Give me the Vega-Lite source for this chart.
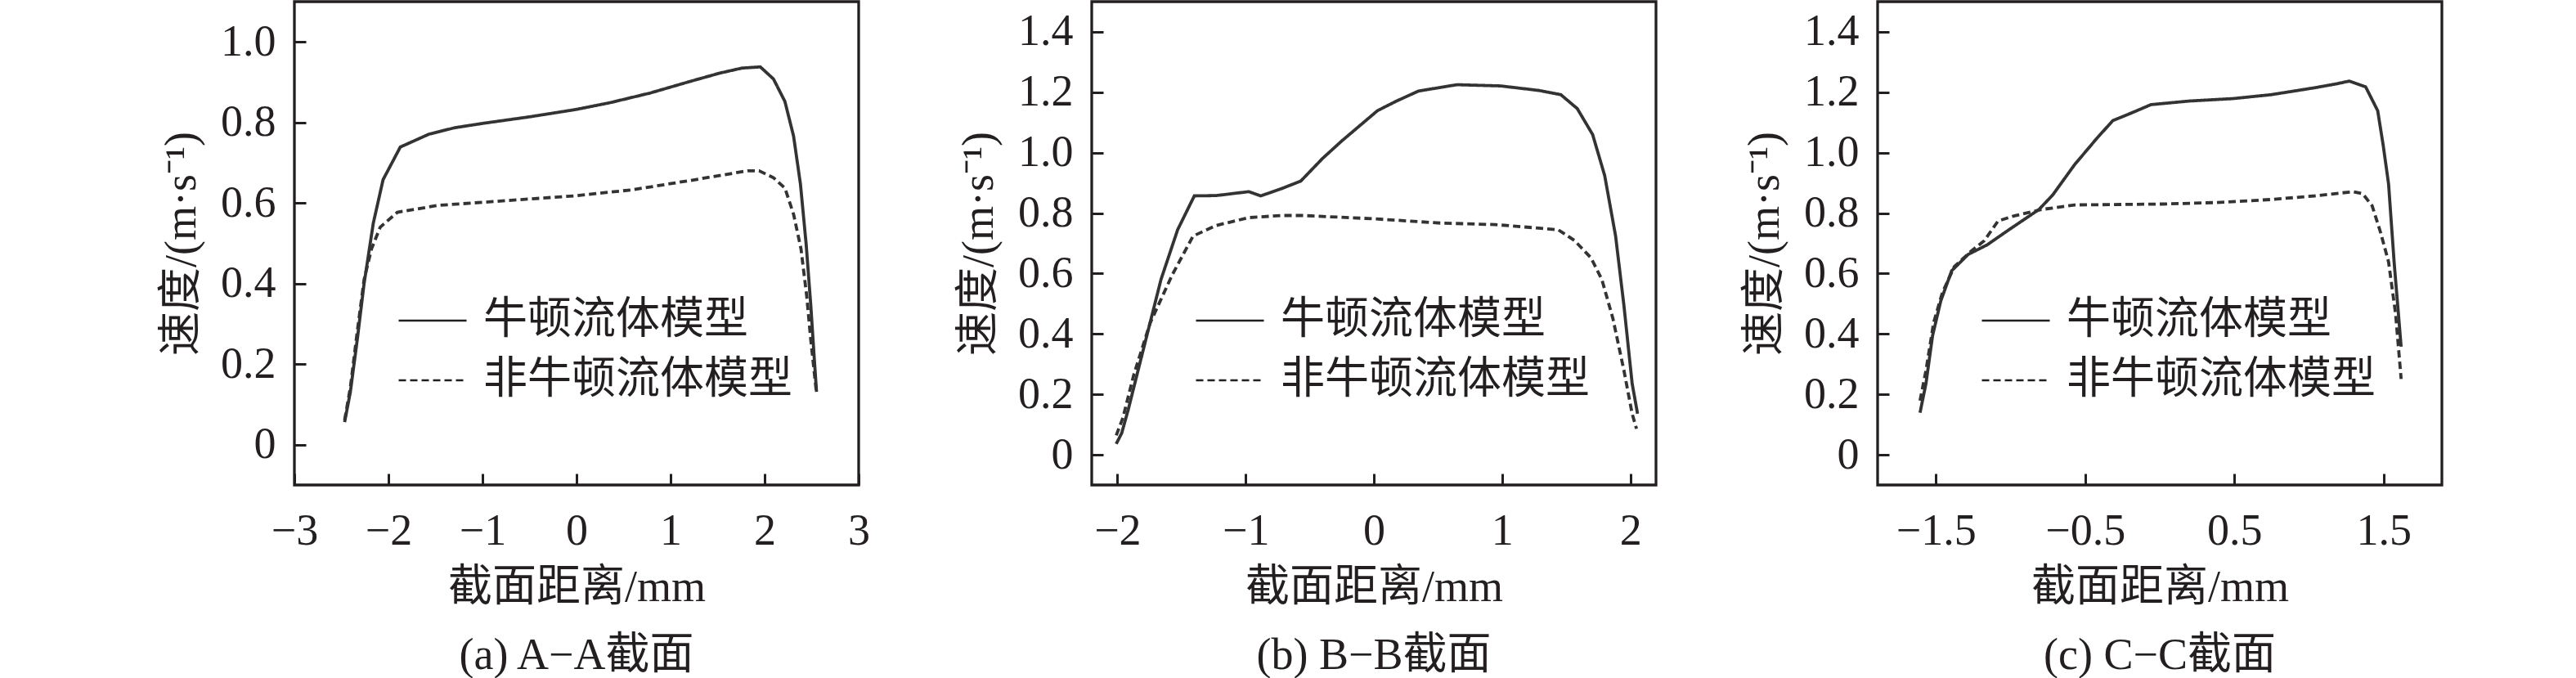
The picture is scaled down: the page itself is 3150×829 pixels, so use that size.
{
  "$schema": "https://vega.github.io/schema/vega-lite/v6.json",
  "padding": {"left": 193, "top": 0, "right": 0, "bottom": 0},
  "background": "white",
  "datasets": {
    "a": [
      {"x": -2.466, "v": 0.056, "model": "牛顿流体模型"},
      {"x": -2.405, "v": 0.131, "model": "牛顿流体模型"},
      {"x": -2.332, "v": 0.26, "model": "牛顿流体模型"},
      {"x": -2.259, "v": 0.4, "model": "牛顿流体模型"},
      {"x": -2.161, "v": 0.55, "model": "牛顿流体模型"},
      {"x": -2.057, "v": 0.658, "model": "牛顿流体模型"},
      {"x": -1.874, "v": 0.739, "model": "牛顿流体模型"},
      {"x": -1.569, "v": 0.771, "model": "牛顿流体模型"},
      {"x": -1.294, "v": 0.787, "model": "牛顿流体模型"},
      {"x": -0.989, "v": 0.798, "model": "牛顿流体模型"},
      {"x": -0.5, "v": 0.814, "model": "牛顿流体模型"},
      {"x": -0.012, "v": 0.832, "model": "牛顿流体模型"},
      {"x": 0.354, "v": 0.849, "model": "牛顿流体模型"},
      {"x": 0.781, "v": 0.873, "model": "牛顿流体模型"},
      {"x": 1.209, "v": 0.902, "model": "牛顿流体模型"},
      {"x": 1.514, "v": 0.922, "model": "牛顿流体模型"},
      {"x": 1.758, "v": 0.935, "model": "牛顿流体模型"},
      {"x": 1.954, "v": 0.938, "model": "牛顿流体模型"},
      {"x": 2.094, "v": 0.908, "model": "牛顿流体模型"},
      {"x": 2.216, "v": 0.852, "model": "牛顿流体模型"},
      {"x": 2.308, "v": 0.766, "model": "牛顿流体模型"},
      {"x": 2.381, "v": 0.647, "model": "牛顿流体模型"},
      {"x": 2.442, "v": 0.497, "model": "牛顿流体模型"},
      {"x": 2.491, "v": 0.346, "model": "牛顿流体模型"},
      {"x": 2.527, "v": 0.217, "model": "牛顿流体模型"},
      {"x": 2.552, "v": 0.131, "model": "牛顿流体模型"},
      {"x": -2.466, "v": 0.061, "model": "非牛顿流体模型"},
      {"x": -2.405, "v": 0.142, "model": "非牛顿流体模型"},
      {"x": -2.332, "v": 0.28, "model": "非牛顿流体模型"},
      {"x": -2.259, "v": 0.41, "model": "非牛顿流体模型"},
      {"x": -2.18, "v": 0.486, "model": "非牛顿流体模型"},
      {"x": -2.088, "v": 0.54, "model": "非牛顿流体模型"},
      {"x": -1.905, "v": 0.577, "model": "非牛顿流体模型"},
      {"x": -1.477, "v": 0.594, "model": "非牛顿流体模型"},
      {"x": -0.989, "v": 0.602, "model": "非牛顿流体模型"},
      {"x": -0.012, "v": 0.618, "model": "非牛顿流体模型"},
      {"x": 0.598, "v": 0.633, "model": "非牛顿流体模型"},
      {"x": 1.209, "v": 0.656, "model": "非牛顿流体模型"},
      {"x": 1.819, "v": 0.68, "model": "非牛顿流体模型"},
      {"x": 1.941, "v": 0.68, "model": "非牛顿流体模型"},
      {"x": 2.094, "v": 0.663, "model": "非牛顿流体模型"},
      {"x": 2.216, "v": 0.637, "model": "非牛顿流体模型"},
      {"x": 2.308, "v": 0.572, "model": "非牛顿流体模型"},
      {"x": 2.387, "v": 0.486, "model": "非牛顿流体模型"},
      {"x": 2.448, "v": 0.368, "model": "非牛顿流体模型"},
      {"x": 2.491, "v": 0.26, "model": "非牛顿流体模型"},
      {"x": 2.54, "v": 0.153, "model": "非牛顿流体模型"},
      {"x": 2.55, "v": 0.131, "model": "非牛顿流体模型"}
    ],
    "b": [
      {"x": -2.009, "v": 0.036, "model": "牛顿流体模型"},
      {"x": -1.966, "v": 0.072, "model": "牛顿流体模型"},
      {"x": -1.915, "v": 0.15, "model": "牛顿流体模型"},
      {"x": -1.83, "v": 0.294, "model": "牛顿流体模型"},
      {"x": -1.66, "v": 0.58, "model": "牛顿流体模型"},
      {"x": -1.53, "v": 0.745, "model": "牛顿流体模型"},
      {"x": -1.4, "v": 0.857, "model": "牛顿流体模型"},
      {"x": -1.23, "v": 0.858, "model": "牛顿流体模型"},
      {"x": -0.976, "v": 0.871, "model": "牛顿流体模型"},
      {"x": -0.882, "v": 0.857, "model": "牛顿流体模型"},
      {"x": -0.72, "v": 0.881, "model": "牛顿流体模型"},
      {"x": -0.57, "v": 0.906, "model": "牛顿流体模型"},
      {"x": -0.4, "v": 0.981, "model": "牛顿流体模型"},
      {"x": -0.25, "v": 1.039, "model": "牛顿流体模型"},
      {"x": 0.028, "v": 1.139, "model": "牛顿流体模型"},
      {"x": 0.177, "v": 1.171, "model": "牛顿流体模型"},
      {"x": 0.348, "v": 1.204, "model": "牛顿流体模型"},
      {"x": 0.647, "v": 1.225, "model": "牛顿流体模型"},
      {"x": 0.988, "v": 1.221, "model": "牛顿流体模型"},
      {"x": 1.287, "v": 1.206, "model": "牛顿流体模型"},
      {"x": 1.458, "v": 1.192, "model": "牛顿流体模型"},
      {"x": 1.586, "v": 1.146, "model": "牛顿流体模型"},
      {"x": 1.706, "v": 1.06, "model": "牛顿流体模型"},
      {"x": 1.8, "v": 0.924, "model": "牛顿流体模型"},
      {"x": 1.885, "v": 0.724, "model": "牛顿流体模型"},
      {"x": 1.95, "v": 0.494, "model": "牛顿流体模型"},
      {"x": 2.014, "v": 0.236, "model": "牛顿流体模型"},
      {"x": 2.056, "v": 0.136, "model": "牛顿流体模型"},
      {"x": -2.009, "v": 0.064, "model": "非牛顿流体模型"},
      {"x": -1.957, "v": 0.122, "model": "非牛顿流体模型"},
      {"x": -1.872, "v": 0.265, "model": "非牛顿流体模型"},
      {"x": -1.744, "v": 0.437, "model": "非牛顿流体模型"},
      {"x": -1.573, "v": 0.595, "model": "非牛顿流体模型"},
      {"x": -1.41, "v": 0.724, "model": "非牛顿流体模型"},
      {"x": -1.23, "v": 0.759, "model": "非牛顿流体模型"},
      {"x": -0.976, "v": 0.785, "model": "非牛顿流体模型"},
      {"x": -0.72, "v": 0.792, "model": "非牛顿流体模型"},
      {"x": -0.549, "v": 0.792, "model": "非牛顿流体模型"},
      {"x": 0.006, "v": 0.781, "model": "非牛顿流体模型"},
      {"x": 0.519, "v": 0.767, "model": "非牛顿流体模型"},
      {"x": 0.946, "v": 0.762, "model": "非牛顿流体模型"},
      {"x": 1.437, "v": 0.745, "model": "非牛顿流体模型"},
      {"x": 1.565, "v": 0.709, "model": "非牛顿流体模型"},
      {"x": 1.693, "v": 0.652, "model": "非牛顿流体模型"},
      {"x": 1.778, "v": 0.58, "model": "非牛顿流体模型"},
      {"x": 1.864, "v": 0.451, "model": "非牛顿流体模型"},
      {"x": 1.95, "v": 0.279, "model": "非牛顿流体模型"},
      {"x": 2.014, "v": 0.136, "model": "非牛顿流体模型"},
      {"x": 2.048, "v": 0.086, "model": "非牛顿流体模型"}
    ],
    "c": [
      {"x": -1.606, "v": 0.139, "model": "牛顿流体模型"},
      {"x": -1.566, "v": 0.236, "model": "牛顿流体模型"},
      {"x": -1.522, "v": 0.394, "model": "牛顿流体模型"},
      {"x": -1.467, "v": 0.509, "model": "牛顿流体模型"},
      {"x": -1.394, "v": 0.609, "model": "牛顿流体模型"},
      {"x": -1.284, "v": 0.663, "model": "牛顿流体模型"},
      {"x": -1.156, "v": 0.695, "model": "牛顿流体模型"},
      {"x": -1.01, "v": 0.745, "model": "牛顿流体模型"},
      {"x": -0.809, "v": 0.812, "model": "牛顿流体模型"},
      {"x": -0.717, "v": 0.86, "model": "牛顿流体模型"},
      {"x": -0.571, "v": 0.96, "model": "牛顿流体模型"},
      {"x": -0.424, "v": 1.046, "model": "牛顿流体模型"},
      {"x": -0.315, "v": 1.106, "model": "牛顿流体模型"},
      {"x": -0.187, "v": 1.132, "model": "牛顿流体模型"},
      {"x": -0.059, "v": 1.159, "model": "牛顿流体模型"},
      {"x": 0.198, "v": 1.171, "model": "牛顿流体模型"},
      {"x": 0.49, "v": 1.179, "model": "牛顿流体模型"},
      {"x": 0.746, "v": 1.192, "model": "牛顿流体模型"},
      {"x": 1.039, "v": 1.215, "model": "牛顿流体模型"},
      {"x": 1.185, "v": 1.228, "model": "牛顿流体模型"},
      {"x": 1.27, "v": 1.237, "model": "牛顿流体模型"},
      {"x": 1.379, "v": 1.218, "model": "牛顿流体模型"},
      {"x": 1.46, "v": 1.139, "model": "牛顿流体模型"},
      {"x": 1.497, "v": 1.024, "model": "牛顿流体模型"},
      {"x": 1.533, "v": 0.896, "model": "牛顿流体模型"},
      {"x": 1.57, "v": 0.638, "model": "牛顿流体模型"},
      {"x": 1.617, "v": 0.358, "model": "牛顿流体模型"},
      {"x": -1.606, "v": 0.179, "model": "非牛顿流体模型"},
      {"x": -1.566, "v": 0.279, "model": "非牛顿流体模型"},
      {"x": -1.515, "v": 0.437, "model": "非牛顿流体模型"},
      {"x": -1.456, "v": 0.537, "model": "非牛顿流体模型"},
      {"x": -1.376, "v": 0.623, "model": "非牛顿流体模型"},
      {"x": -1.266, "v": 0.673, "model": "非牛顿流体模型"},
      {"x": -1.175, "v": 0.709, "model": "非牛顿流体模型"},
      {"x": -1.083, "v": 0.774, "model": "非牛顿流体模型"},
      {"x": -0.973, "v": 0.791, "model": "非牛顿流体模型"},
      {"x": -0.79, "v": 0.812, "model": "非牛顿流体模型"},
      {"x": -0.571, "v": 0.827, "model": "非牛顿流体模型"},
      {"x": 0.015, "v": 0.83, "model": "非牛顿流体模型"},
      {"x": 0.38, "v": 0.835, "model": "非牛顿流体模型"},
      {"x": 0.746, "v": 0.845, "model": "非牛顿流体模型"},
      {"x": 1.039, "v": 0.857, "model": "非牛顿流体模型"},
      {"x": 1.295, "v": 0.871, "model": "非牛顿流体模型"},
      {"x": 1.36, "v": 0.864, "model": "非牛顿流体模型"},
      {"x": 1.423, "v": 0.824, "model": "非牛顿流体模型"},
      {"x": 1.478, "v": 0.738, "model": "非牛顿流体模型"},
      {"x": 1.533, "v": 0.638, "model": "非牛顿流体模型"},
      {"x": 1.58, "v": 0.466, "model": "非牛顿流体模型"},
      {"x": 1.617, "v": 0.251, "model": "非牛顿流体模型"}
    ]
  },
  "spacing": 102,
  "hconcat": [
    {
      "width": 690,
      "height": 591,
      "data": {"name": "a"},
      "title": "(a) A−A截面",
      "mark": {"type": "line", "strokeWidth": 3.8, "color": "#333333"},
      "encoding": {
        "x": {
          "field": "x", "type": "quantitative", "title": "截面距离/mm",
          "scale": {"domain": [-3, 3], "nice": false, "zero": false},
          "axis": {"values": [-3, -2, -1, 0, 1, 2, 3]}
        },
        "y": {
          "field": "v", "type": "quantitative", "title": "速度/(m·s⁻¹)",
          "scale": {"domain": [-0.1, 1.1], "nice": false},
          "axis": {"values": [0, 0.2, 0.4, 0.6, 0.8, 1.0], "labelExpr": "datum.value == 0 ? '0' : format(datum.value, '.1f')"}
        },
        "strokeDash": {
          "field": "model", "type": "nominal",
          "scale": {"domain": ["牛顿流体模型", "非牛顿流体模型"], "range": [[1, 0], [9, 5]]},
          "legend": {"orient": "none", "legendX": 126, "legendY": 347}
        }
      }
    },
    {
      "width": 690,
      "height": 591,
      "data": {"name": "b"},
      "title": "(b) B−B截面",
      "mark": {"type": "line", "strokeWidth": 3.8, "color": "#333333"},
      "encoding": {
        "x": {
          "field": "x", "type": "quantitative", "title": "截面距离/mm",
          "scale": {"domain": [-2.2, 2.2], "nice": false, "zero": false},
          "axis": {"values": [-2, -1, 0, 1, 2]}
        },
        "y": {
          "field": "v", "type": "quantitative", "title": "速度/(m·s⁻¹)",
          "scale": {"domain": [-0.1, 1.5], "nice": false},
          "axis": {"values": [0, 0.2, 0.4, 0.6, 0.8, 1.0, 1.2, 1.4], "labelExpr": "datum.value == 0 ? '0' : format(datum.value, '.1f')"}
        },
        "strokeDash": {
          "field": "model", "type": "nominal",
          "scale": {"domain": ["牛顿流体模型", "非牛顿流体模型"], "range": [[1, 0], [9, 5]]},
          "legend": {"orient": "none", "legendX": 126, "legendY": 347}
        }
      }
    },
    {
      "width": 690,
      "height": 591,
      "data": {"name": "c"},
      "title": "(c) C−C截面",
      "mark": {"type": "line", "strokeWidth": 3.8, "color": "#333333"},
      "encoding": {
        "x": {
          "field": "x", "type": "quantitative", "title": "截面距离/mm",
          "scale": {"domain": [-1.89, 1.89], "nice": false, "zero": false},
          "axis": {"values": [-1.5, -0.5, 0.5, 1.5], "format": ".1f"}
        },
        "y": {
          "field": "v", "type": "quantitative", "title": "速度/(m·s⁻¹)",
          "scale": {"domain": [-0.1, 1.5], "nice": false},
          "axis": {"values": [0, 0.2, 0.4, 0.6, 0.8, 1.0, 1.2, 1.4], "labelExpr": "datum.value == 0 ? '0' : format(datum.value, '.1f')"}
        },
        "strokeDash": {
          "field": "model", "type": "nominal",
          "scale": {"domain": ["牛顿流体模型", "非牛顿流体模型"], "range": [[1, 0], [9, 5]]},
          "legend": {"orient": "none", "legendX": 126, "legendY": 347}
        }
      }
    }
  ],
  "resolve": {"legend": {"strokeDash": "independent"}, "scale": {"strokeDash": "independent"}},
  "config": {
    "font": "Liberation Serif, Noto Sans CJK SC",
    "view": {"stroke": "#231f20", "strokeWidth": 3.3},
    "axis": {
      "domain": false,
      "grid": false,
      "tickSize": -14,
      "tickWidth": 3,
      "tickColor": "#231f20",
      "labelFont": "Liberation Serif",
      "labelFontSize": 54,
      "labelColor": "#231f20",
      "labelOverlap": false,
      "labelFlush": false,
      "titleFont": "Liberation Serif, Noto Sans CJK SC",
      "titleFontSize": 54,
      "titleFontWeight": "normal",
      "titleColor": "#231f20"
    },
    "axisX": {"labelPadding": 43, "titlePadding": 15},
    "axisY": {"labelPadding": 37, "titlePadding": 20},
    "legend": {
      "title": null,
      "symbolType": "stroke",
      "symbolSize": 6889,
      "symbolStrokeWidth": 2.4,
      "symbolStrokeColor": "#231f20",
      "labelFont": "Liberation Serif, Noto Sans CJK SC",
      "labelFontSize": 54,
      "labelColor": "#231f20",
      "labelLimit": 0,
      "labelOffset": 19,
      "rowPadding": 3,
      "padding": 0
    },
    "title": {
      "orient": "bottom",
      "anchor": "middle",
      "font": "Liberation Serif, Noto Sans CJK SC",
      "fontSize": 54,
      "fontWeight": "normal",
      "color": "#231f20",
      "offset": 30
    }
  }
}
